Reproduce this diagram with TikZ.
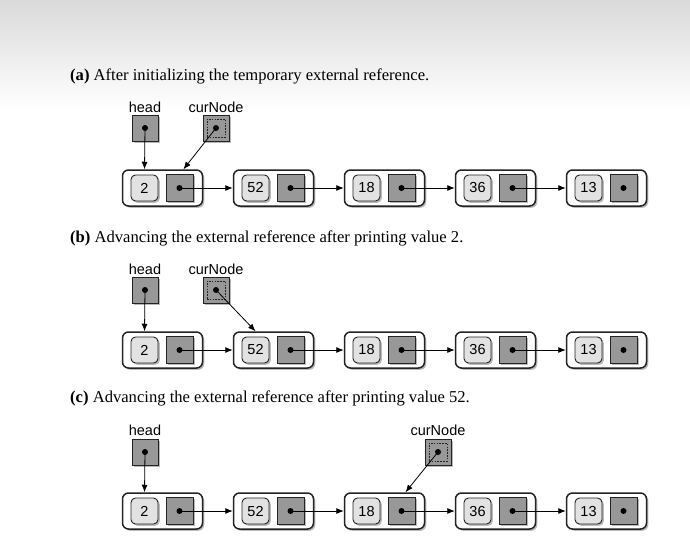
\documentclass[tikz,border=0pt]{standalone}
\usepackage{fontspec}
\setmainfont{Liberation Serif}
\setsansfont{Liberation Sans}
\usetikzlibrary{shadows,arrows.meta,calc}
\definecolor{ptrgray}{RGB}{152,152,152}
\definecolor{valgray}{RGB}{226,226,226}
\definecolor{edgecol}{RGB}{35,35,35}
\definecolor{bgtop}{RGB}{218,218,218}
\begin{document}
\begin{tikzpicture}[x=1pt,y=-1pt,
  shadowed/.style={drop shadow={shadow xshift=1.8pt,shadow yshift=-1.8pt,fill=black!45,opacity=0.6}},
  outerbox/.style={draw=edgecol, line width=1.5pt, rounded corners=6pt, fill=white,
    minimum width=80pt, minimum height=36pt, inner sep=0pt, shadowed},
  valbox/.style={draw=edgecol, line width=0.9pt, rounded corners=4.5pt, fill=valgray,
    minimum width=27pt, minimum height=26pt, inner sep=0pt,
    font=\sffamily\fontsize{14.5}{16}\selectfont, shadowed},
  ptrbox/.style={draw=edgecol, line width=0.9pt, fill=ptrgray, minimum size=27pt, inner sep=0pt, shadowed},
  extbox/.style={draw=edgecol, line width=0.9pt, fill=ptrgray, minimum size=26pt, inner sep=0pt, shadowed},
  dashbox/.style={draw=edgecol, line width=0.7pt, dash pattern=on 1.6pt off 1.2pt, minimum size=18pt, inner sep=0pt},
  ptdot/.style={circle, fill=black, inner sep=0pt, minimum size=6pt},
  arr/.style={-{Latex[length=7.5pt,width=6pt]}, line width=0.8pt, draw=black},
  lbl/.style={font=\sffamily\fontsize{14.5}{16}\selectfont, inner sep=0pt},
  captext/.style={anchor=west, inner sep=0pt, font=\fontsize{16.6}{19}\selectfont}
]
\useasboundingbox (0,0) rectangle (690,549);
\shade[top color=bgtop, bottom color=white] (0,0) rectangle (690,110);

% captions
\node[captext] (capa) at (70,76) {\textbf{(a)} After initializing the temporary external reference.};
\node[captext] (capb) at (70,238) {\textbf{(b)} Advancing the external reference after printing value 2.};
\node[captext] (capc) at (70,398) {\textbf{(c)} Advancing the external reference after printing value 52.};

% linked lists
\foreach \r/\ry in {a/188,b/350,c/511}{
  \foreach \v [count=\i from 0] in {2,52,18,36,13}{
    \pgfmathsetmacro\cx{162.5+111*\i}
    \node[outerbox] (o-\r-\i) at (\cx,\ry) {};
    \node[valbox] (v-\r-\i) at ($(o-\r-\i.center)+(-18,0)$) {\v};
    \node[ptrbox] (p-\r-\i) at ($(o-\r-\i.center)+(17,0)$) {};
    \node[ptdot] (d-\r-\i) at (p-\r-\i.center) {};
  }
  \foreach \i/\j in {0/1,1/2,2/3,3/4}{
    \draw[arr] (d-\r-\i.center) -- (o-\r-\j.west);
  }
}

% external references
\foreach \r/\ly/\by/\cx in {a/107/128/216, b/269/290/216, c/430/452/438}{
  \node[lbl] (hl-\r) at (145,\ly) {head};
  \node[extbox] (h-\r) at (145,\by) {};
  \node[ptdot] (hd-\r) at (h-\r.center) {};
  \node[lbl] (cl-\r) at (\cx,\ly) {curNode};
  \node[extbox] (c-\r) at (\cx,\by) {};
  \node[dashbox] (ci-\r) at (c-\r.center) {};
  \node[ptdot] (cd-\r) at (c-\r.center) {};
  \draw[arr] (hd-\r.center) -- (v-\r-0 |- o-\r-0.north);
}
\draw[arr] (cd-a.center) -- ([xshift=4pt]p-a-0.center |- o-a-0.north);
\draw[arr] (cd-b.center) -- (v-b-1 |- o-b-1.north);
\draw[arr] (cd-c.center) -- ([xshift=4pt]p-c-2.center |- o-c-2.north);
\end{tikzpicture}
\end{document}
